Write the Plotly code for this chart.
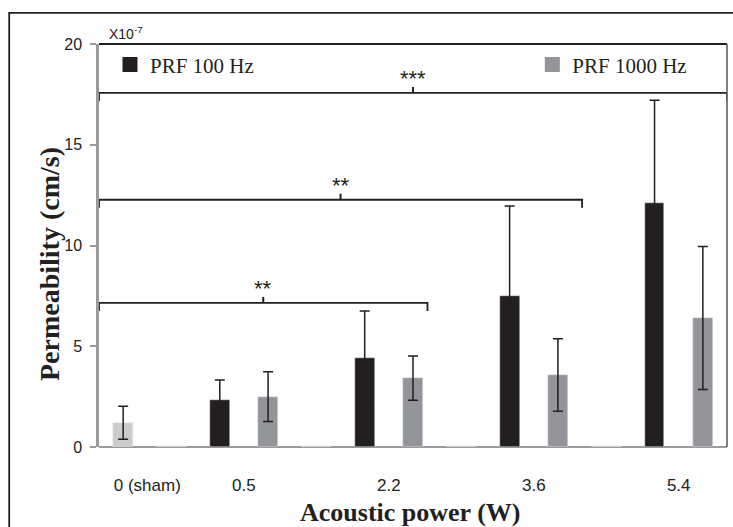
import plotly.graph_objects as go

# ---- data ----
tick_labels = ["0 (sham)", "0.5", "2.2", "3.6", "5.4"]
tick_slots = [0.5, 2.5, 5.5, 8.5, 11.5]

sham_slot = [0]
sham_val = [1.2]
sham_err = [0.82]

blank_slots = [1, 4, 7, 10]
blank_val = [0.06, 0.06, 0.06, 0.06]

prf100_slots = [2, 5, 8, 11]
prf100_val = [2.33, 4.42, 7.49, 12.11]
prf100_err = [1.0, 2.33, 4.47, 5.1]

prf1000_slots = [3, 6, 9, 12]
prf1000_val = [2.5, 3.42, 3.57, 6.4]
prf1000_err = [1.23, 1.1, 1.8, 3.55]

# significance brackets: (start slot, end slot, height, label)
brackets = [(-0.5, 12.5, 17.57, "***"), (-0.5, 9.5, 12.27, "**"), (-0.5, 6.3, 7.15, "**")]

BLACK = "#231f20"
GRAY = "#939598"
LIGHT = "#cbcbcb"
SERIF = "Liberation Serif"
SANS = "Liberation Sans"

err_style = dict(type="data", color=BLACK, thickness=1.5, width=5, visible=True)

fig = go.Figure()
fig.add_trace(go.Bar(x=sham_slot, y=sham_val, width=0.41, marker_color=LIGHT,
                     error_y=dict(array=sham_err, **err_style), showlegend=False))
fig.add_trace(go.Bar(x=blank_slots, y=blank_val, width=0.6, marker_color=LIGHT, showlegend=False))
fig.add_trace(go.Bar(x=prf100_slots, y=prf100_val, width=0.41, marker_color=BLACK,
                     error_y=dict(array=prf100_err, **err_style), name="PRF 100 Hz",
                     showlegend=False))
fig.add_trace(go.Bar(x=prf1000_slots, y=prf1000_val, width=0.41, marker_color=GRAY,
                     error_y=dict(array=prf1000_err, **err_style), name="PRF 1000 Hz",
                     showlegend=False))
# legend entries (square swatches)
fig.add_trace(go.Scatter(x=[None], y=[None], mode="markers", name="PRF 100 Hz", legend="legend",
                         marker=dict(symbol="square", size=15, color=BLACK)))
fig.add_trace(go.Scatter(x=[None], y=[None], mode="markers", name="PRF 1000 Hz", legend="legend2",
                         marker=dict(symbol="square", size=15, color=GRAY)))

shapes = []
annotations = []
for x0, x1, h, lab in brackets:
    mid = (x0 + x1) / 2
    shapes.append(dict(type="path", xref="x", yref="y",
                       path=f"M {x0},{h-0.4} L {x0},{h} L {x1},{h} L {x1},{h-0.4}",
                       line=dict(color=BLACK, width=1.8)))
    shapes.append(dict(type="line", xref="x", yref="y", x0=mid, x1=mid, y0=h, y1=h + 0.3,
                       line=dict(color=BLACK, width=2)))
    annotations.append(dict(x=mid, y=h + 0.3, xref="x", yref="y", text=lab, showarrow=False,
                            yanchor="bottom", yshift=-6,
                            font=dict(family=SANS, size=22, color=BLACK)))

# plot frame: top and right
shapes.append(dict(type="line", xref="paper", yref="paper", x0=0, x1=1, y0=1, y1=1,
                   line=dict(color=BLACK, width=1.8)))
shapes.append(dict(type="line", xref="paper", yref="paper", x0=1, x1=1, y0=0, y1=1,
                   line=dict(color="#555555", width=1.5)))
# outer chart frame
shapes.append(dict(type="rect", xref="paper", yref="paper", x0=-0.143, x1=1.03, y0=-0.25, y1=1.077,
                   line=dict(color=BLACK, width=1.8)))

annotations.append(dict(x=0.012, y=1.0, xref="paper", yref="paper", text="X10<sup>-7</sup>",
                        showarrow=False, xanchor="left", yanchor="bottom",
                        font=dict(family=SANS, size=14, color="#222")))
# axis titles
annotations.append(dict(x=-0.0796, y=0.454, xref="paper", yref="paper",
                        text="<b>Permeability (cm/s)</b>", textangle=-90, showarrow=False,
                        xanchor="center", yanchor="middle",
                        font=dict(family=SERIF, size=28, color=BLACK)))
annotations.append(dict(x=0.495, y=-0.162, xref="paper", yref="paper",
                        text="<b>Acoustic power (W)</b>", showarrow=False,
                        xanchor="center", yanchor="middle",
                        font=dict(family=SERIF, size=26, color=BLACK)))

fig.update_layout(
    width=733, height=527,
    margin=dict(l=99, r=6, t=44, b=80),
    paper_bgcolor="white", plot_bgcolor="white",
    barmode="overlay", bargap=0,
    shapes=shapes, annotations=annotations,
    legend=dict(x=0.0175, y=0.948, xanchor="left", yanchor="middle", bgcolor="rgba(0,0,0,0)",
                itemsizing="trace", font=dict(family=SERIF, size=21, color=BLACK)),
    legend2=dict(x=0.69, y=0.948, xanchor="left", yanchor="middle", bgcolor="rgba(0,0,0,0)",
                 itemsizing="trace", font=dict(family=SERIF, size=21, color=BLACK)),
    xaxis=dict(range=[-0.5, 12.5], tickmode="array", tickvals=tick_slots, ticktext=tick_labels,
               showline=False, showgrid=False, zeroline=False, ticks="", ticklabelstandoff=26,
               tickfont=dict(family=SANS, size=17, color="#222")),
    yaxis=dict(range=[0, 20], tickmode="array", tickvals=[0, 5, 10, 15, 20],
               showline=True, linecolor="#9a9a9a", linewidth=2.5, showgrid=False,
               zeroline=True, zerolinecolor="#9a9a9a", zerolinewidth=2,
               ticks="outside", ticklen=6, tickcolor="#9a9a9a", tickwidth=1.5,
               ticklabelstandoff=5,
               tickfont=dict(family=SANS, size=16, color="#222")),
)

fig.write_html("out.html")
